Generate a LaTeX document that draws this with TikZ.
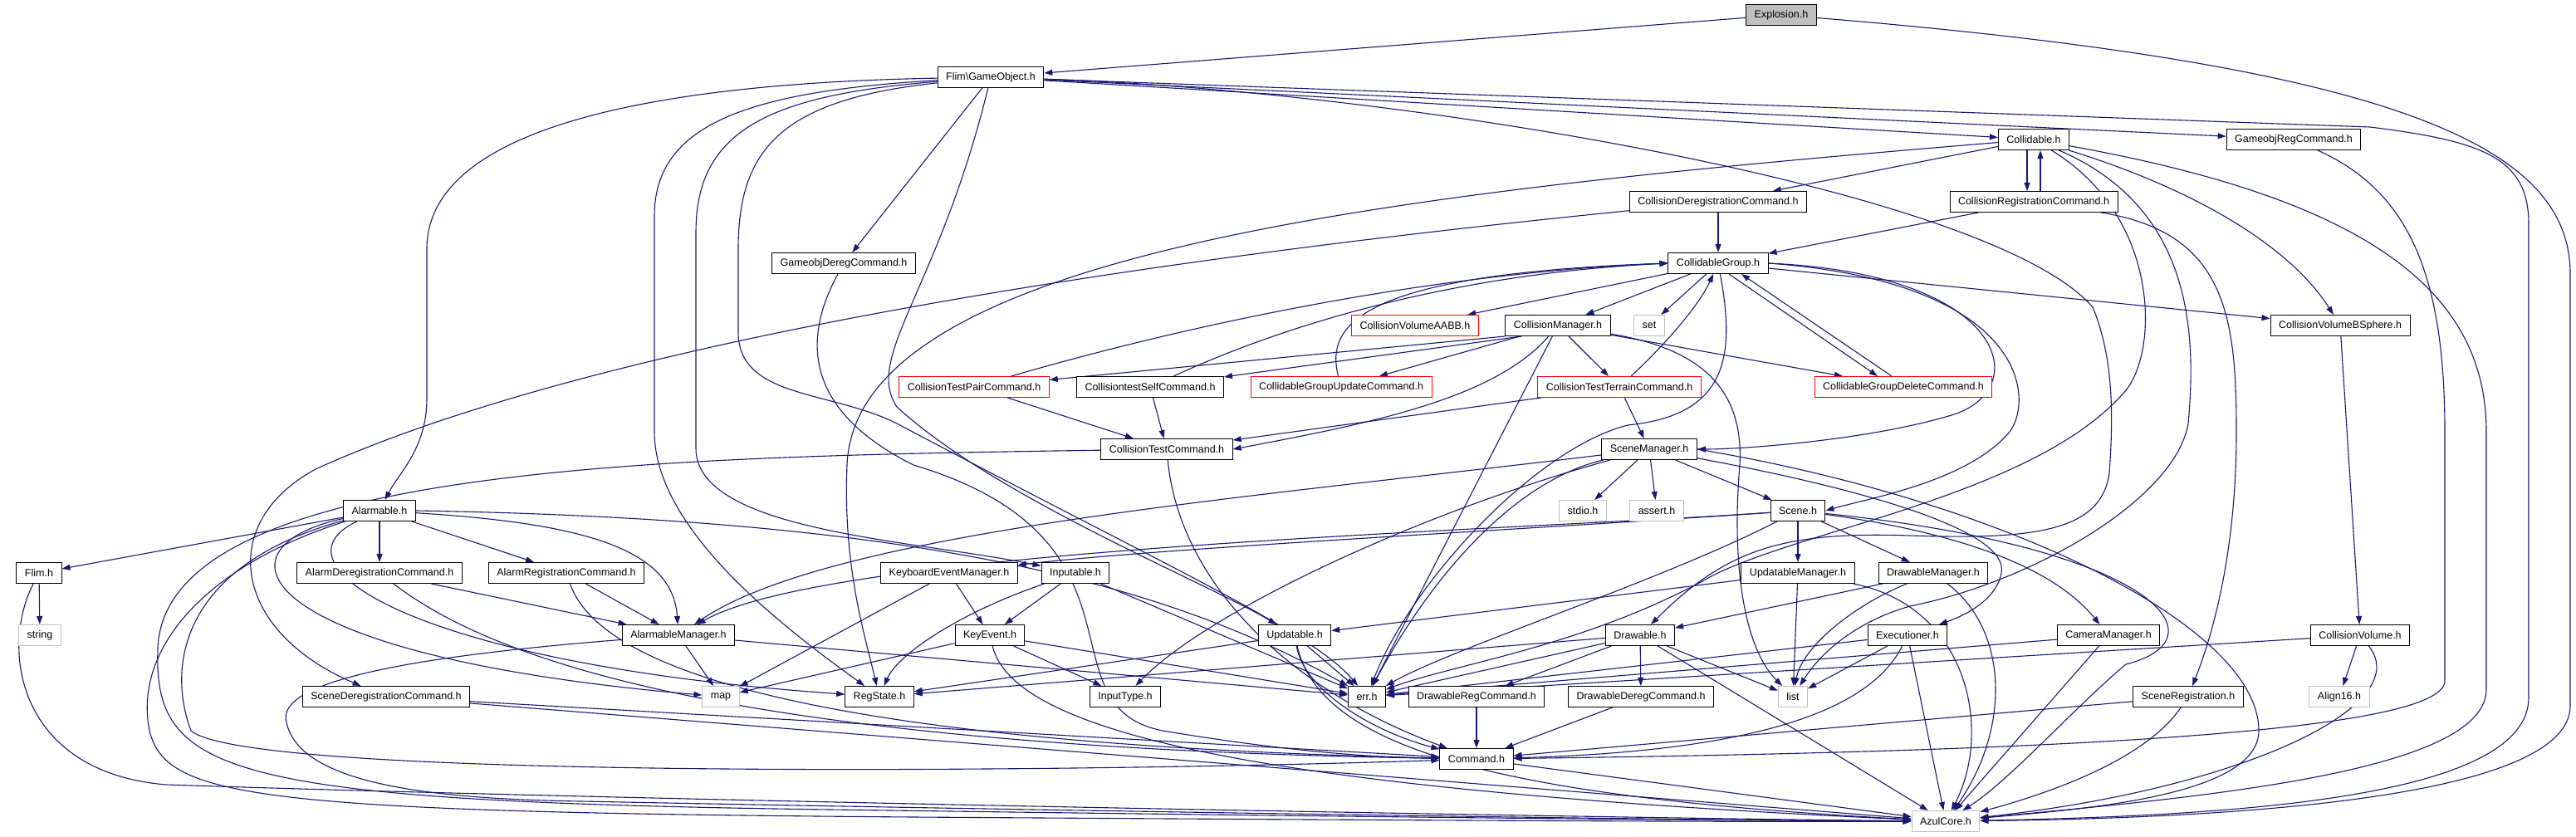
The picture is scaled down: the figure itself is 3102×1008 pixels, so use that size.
\documentclass[tikz,border=0pt]{standalone}
\usepackage{fontspec}
\setmainfont{Liberation Sans}
\usetikzlibrary{arrows.meta,backgrounds}
\definecolor{edgeblue}{RGB}{25,25,112}
\definecolor{boxgrey}{RGB}{191,191,191}

\begin{document}
\begin{tikzpicture}[x=1pt,y=-1pt]
        \tikzset{every node/.style = {shape=rectangle, draw=black, line width=1pt, fill=white,
            minimum height=25pt, inner xsep=10pt, inner ysep=0pt, font=\fontsize{12.5}{14}\selectfont},
          redbox/.style = {draw=red},
          greybox/.style = {draw=boxgrey},
          rootbox/.style = {fill=boxgrey},
          dep/.style = {draw=edgeblue, line width=1.1pt, -{Triangle[length=10pt,width=7pt]}}}
        \useasboundingbox (0,0) rectangle (3102,1008);

        \node[rootbox] (explosion) at (2145, 18) {Explosion.h};
        \node (gameobject) at (1193, 93) {Flim\textbackslash GameObject.h};

        \node (collidable) at (2449, 168) {Collidable.h};
        \node (gameobjreg) at (2762, 168) {GameobjRegCommand.h};

        \node (colldereg) at (2069, 243) {CollisionDeregistrationCommand.h};
        \node (collreg) at (2449, 243) {CollisionRegistrationCommand.h};

        \node (gameobjdereg) at (1016, 317) {GameobjDeregCommand.h};
        \node (collgroup) at (2069, 317) {CollidableGroup.h};

        \node[redbox] (volaabb) at (1704, 392) {CollisionVolumeAABB.h};
        \node (collmgr) at (1876, 392) {CollisionManager.h};
        \node[greybox] (set) at (1986, 392) {set};
        \node (volbsphere) at (2818, 392) {CollisionVolumeBSphere.h};

        \node[redbox] (testpair) at (1173, 466) {CollisionTestPairCommand.h};
        \node (testself) at (1385, 466) {CollisiontestSelfCommand.h};
        \node[redbox] (groupupdate) at (1615, 466) {CollidableGroupUpdateCommand.h};
        \node[redbox] (testterrain) at (1950, 466) {CollisionTestTerrainCommand.h};
        \node[redbox] (groupdelete) at (2292, 466) {CollidableGroupDeleteCommand.h};

        \node (testcmd) at (1405, 541) {CollisionTestCommand.h};
        \node (scenemgr) at (1986, 541) {SceneManager.h};

        \node (alarmable) at (457, 615) {Alarmable.h};
        \node[greybox] (stdio) at (1906, 615) {stdio.h};
        \node[greybox] (assert) at (1995, 615) {assert.h};
        \node (scene) at (2165, 615) {Scene.h};

        \node (flim) at (47, 690) {Flim.h};
        \node (alarmdereg) at (457, 690) {AlarmDeregistrationCommand.h};
        \node (alarmreg) at (682, 690) {AlarmRegistrationCommand.h};
        \node (keymgr) at (1143, 690) {KeyboardEventManager.h};
        \node (inputable) at (1295, 690) {Inputable.h};
        \node (updmgr) at (2165, 690) {UpdatableManager.h};
        \node (drawmgr) at (2328, 690) {DrawableManager.h};

        \node[greybox] (string) at (48, 765) {string};
        \node (alarmmgr) at (817, 765) {AlarmableManager.h};
        \node (keyevent) at (1192, 765) {KeyEvent.h};
        \node (updatable) at (1559, 765) {Updatable.h};
        \node (drawable) at (1975, 765) {Drawable.h};
        \node (executioner) at (2297, 765) {Executioner.h};
        \node (cameramgr) at (2539, 765) {CameraManager.h};
        \node (collvolume) at (2842, 765) {CollisionVolume.h};

        \node (scenedereg) at (465, 839) {SceneDeregistrationCommand.h};
        \node[greybox] (map) at (868, 839) {map};
        \node (regstate) at (1059, 839) {RegState.h};
        \node (inputtype) at (1355, 839) {InputType.h};
        \node (err) at (1646, 839) {err.h};
        \node (drawreg) at (1778, 839) {DrawableRegCommand.h};
        \node (drawdereg) at (1976, 839) {DrawableDeregCommand.h};
        \node[greybox] (list) at (2159, 839) {list};
        \node (scenereg) at (2635, 839) {SceneRegistration.h};
        \node[greybox] (align) at (2817, 839) {Align16.h};

        \node (command) at (1778, 914) {Command.h};
        \node[greybox] (azul) at (2343, 989) {AzulCore.h};

        \begin{pgfonlayer}{background}
        % Explosion.h
        \draw[dep] (explosion) -- (gameobject);
        \draw[dep] (explosion) .. controls (2900,80) and (3095,180) .. (3095,330) -- (3095,850) .. controls (3095,960) and (2700,985) .. (azul);

        % Flim\GameObject.h
        \draw[dep] (gameobject) -- (collidable);
        \draw[dep] (gameobject) -- (gameobjreg);
        \draw[dep] (gameobject) -- (gameobjdereg);
        \draw[dep] (gameobject) -- (2854,153) .. controls (2990,170) and (3045,190) .. (3045,270) -- (3045,840) .. controls (3045,960) and (2700,982) .. (azul);
        \draw[dep] (gameobject) .. controls (1700,110) and (2400,230) .. (2520,370) .. controls (2545,430) and (2545,500) .. (2540,570) .. controls (2530,640) and (2450,650) .. (2300,645) .. controls (2150,640) and (2080,660) .. (drawable);
        \draw[dep] (gameobject) .. controls (800,100) and (514,150) .. (514,300) -- (514,480) .. controls (514,540) and (480,570) .. (alarmable);
        \draw[dep] (gameobject) .. controls (900,110) and (788,150) .. (788,260) -- (788,520) .. controls (788,640) and (950,760) .. (regstate);
        \draw[dep] (gameobject) .. controls (920,115) and (838,160) .. (838,280) -- (838,540) .. controls (838,640) and (1100,650) .. (inputable);
        \draw[dep] (gameobject) .. controls (940,120) and (889,180) .. (889,300) -- (889,400) .. controls (889,480) and (1000,470) .. (1080,510) .. controls (1400,680) and (1580,760) .. (err);
        \draw[dep] (gameobject) .. controls (1130,350) and (1040,430) .. (1080,490) .. controls (1200,600) and (1450,700) .. (updatable);

        % Collidable.h
        \draw[dep] (collidable) -- (colldereg);
        \draw[dep] ([xshift=-8pt]collidable.south) -- ([xshift=-8pt]collreg.north);
        \draw[dep] ([xshift=8pt]collreg.north) -- ([xshift=8pt]collidable.south);
        \draw[dep] (collidable) .. controls (2650,230) and (2760,300) .. (volbsphere);
        \draw[dep] (collidable) .. controls (1700,230) and (1030,300) .. (1020,560) .. controls (1015,680) and (1040,760) .. (regstate);
        \draw[dep] (collidable) .. controls (2600,260) and (2600,420) .. (2560,470) .. controls (2450,600) and (2150,640) .. (2050,700) .. controls (1900,780) and (1750,800) .. (err);
        \draw[dep] (collidable) .. controls (2640,250) and (2645,400) .. (2635,510) .. controls (2620,600) and (2450,700) .. (2300,730) .. controls (2230,750) and (2190,790) .. (list);
        \draw[dep] (collidable) .. controls (2850,240) and (2994,350) .. (2994,520) -- (2994,830) .. controls (2994,930) and (2650,960) .. (azul);

        % registration commands
        \draw[dep] (colldereg) -- (collgroup);
        \draw[dep] (colldereg) .. controls (1300,320) and (700,420) .. (380,565) .. controls (260,630) and (280,760) .. (scenedereg);
        \draw[dep] (collreg) -- (collgroup);
        \draw[dep] (collreg) .. controls (2680,280) and (2693,380) .. (2693,520) .. controls (2693,650) and (2670,750) .. (scenereg);
        \draw[dep] (gameobjreg) .. controls (2900,230) and (2944,330) .. (2944,520) -- (2944,820) .. controls (2944,880) and (2500,905) .. (command);
        \draw[dep] (gameobjdereg) .. controls (960,420) and (980,500) .. (1100,560) .. controls (1400,650) and (1250,850) .. (1400,880) .. controls (1550,905) and (1650,912) .. (command);

        % CollidableGroup.h
        \draw[dep] (collgroup) -- (volaabb);
        \draw[dep] (collgroup) -- (collmgr);
        \draw[dep] (collgroup) -- (set);
        \draw[dep] (collgroup) -- (volbsphere);
        \draw[dep] ([xshift=13pt]collgroup.south) -- ([xshift=-31pt]groupdelete.north);
        \draw[dep] ([xshift=-14pt]groupdelete.north) -- ([xshift=28pt]collgroup.south);
        \draw[dep] (collgroup.east) .. controls (2420,330) and (2450,470) .. (2350,500) .. controls (2250,530) and (2100,541) .. (scenemgr.east);
        \draw[dep] (collgroup.east) .. controls (2440,340) and (2450,480) .. (2420,520) .. controls (2370,580) and (2250,600) .. (scene.east);
        \draw[dep] (collgroup) .. controls (2090,430) and (2080,500) .. (1960,512) .. controls (1850,540) and (1700,700) .. (err);

        % CollisionManager.h
        \draw[dep] (collmgr.south west) -- (testpair);
        \draw[dep] ([xshift=20pt]collmgr.south west) -- (testself);
        \draw[dep] (collmgr) -- (groupupdate);
        \draw[dep] (collmgr) -- (testterrain);
        \draw[dep] (collmgr) -- (groupdelete);
        \draw[dep] (collmgr) .. controls (1800,480) and (1650,510) .. (testcmd.east);
        \draw[dep] (collmgr) -- (err);
        \draw[dep] (collmgr) .. controls (2050,420) and (2100,470) .. (2095,560) .. controls (2085,680) and (2100,780) .. (list);

        % collision test commands
        \draw[dep] (testpair) .. controls (1400,400) and (1700,330) .. (collgroup.west);
        \draw[dep] (testself) .. controls (1550,390) and (1750,330) .. (collgroup.west);
        \draw[dep] (groupupdate) .. controls (1595,390) and (1640,330) .. (collgroup.west);
        \draw[dep] (testterrain) .. controls (2000,420) and (2045,370) .. (collgroup);
        \draw[dep] (testpair) -- (testcmd);
        \draw[dep] (testself) -- (testcmd);
        \draw[dep] (testterrain) -- (testcmd);
        \draw[dep] (testterrain) -- (scenemgr);
        \draw[dep] (testcmd) .. controls (1420,700) and (1550,830) .. (command);
        \draw[dep] (testcmd) .. controls (800,550) and (200,560) .. (190,780) .. controls (185,930) and (260,965) .. (1000,975) .. controls (1500,982) and (2000,988) .. (azul);

        % SceneManager.h
        \draw[dep] (scenemgr) -- (stdio);
        \draw[dep] (scenemgr) -- (assert);
        \draw[dep] (scenemgr) -- (scene);
        \draw[dep] (scenemgr) .. controls (1500,600) and (1000,640) .. (alarmmgr);
        \draw[dep] (scenemgr) .. controls (1820,580) and (1720,700) .. (err);
        \draw[dep] (scenemgr) .. controls (1700,620) and (1450,740) .. (inputtype);
        \draw[dep] (scenemgr) .. controls (2250,590) and (2420,640) .. (2410,690) .. controls (2405,720) and (2370,740) .. (executioner);
        \draw[dep] (scenemgr.east) .. controls (2400,600) and (2720,750) .. (2720,880) .. controls (2720,960) and (2500,975) .. (azul);

        % Scene.h
        \draw[dep] (scene) -- (updmgr);
        \draw[dep] (scene) -- (drawmgr);
        \draw[dep] (scene) .. controls (2350,640) and (2470,680) .. (cameramgr);
        \draw[dep] (scene) .. controls (1800,640) and (1000,660) .. (alarmmgr);
        \draw[dep] (scene) .. controls (1800,640) and (1400,660) .. (keymgr);
        \draw[dep] (scene) .. controls (2000,700) and (1750,780) .. (err);
        \draw[dep] (scene) .. controls (2600,660) and (2680,770) .. (2560,800) .. controls (2500,850) and (2420,940) .. (azul);

        % Alarmable.h
        \draw[dep] (alarmable) -- (flim);
        \draw[dep] (alarmable) -- (alarmdereg);
        \draw[dep] (alarmable) -- (alarmreg);
        \draw[dep] (alarmable) .. controls (700,630) and (810,660) .. (alarmmgr);
        \draw[dep] (alarmable) .. controls (250,660) and (300,790) .. (map);
        \draw[dep] (alarmable) .. controls (320,680) and (500,800) .. (regstate);
        \draw[dep] (alarmable) .. controls (220,680) and (200,800) .. (230,880) .. controls (300,940) and (1300,930) .. (command);
        \draw[dep] (alarmable) .. controls (250,680) and (160,780) .. (180,880) .. controls (200,960) and (300,978) .. (1100,984) .. controls (1700,988) and (2100,990) .. (azul);
        \draw[dep] (alarmable.east) .. controls (1100,625) and (1400,700) .. (err);

        % Flim.h
        \draw[dep] (flim) -- (string);
        \draw[dep] (flim) .. controls (0,780) and (20,930) .. (200,945) .. controls (800,965) and (2000,986) .. (azul);

        % alarm commands
        \draw[dep] (alarmdereg) -- (alarmmgr);
        \draw[dep] (alarmdereg) .. controls (600,800) and (900,900) .. (command);
        \draw[dep] (alarmreg) -- (alarmmgr);
        \draw[dep] (alarmreg) .. controls (720,800) and (950,895) .. (command);

        % input
        \draw[dep] (keymgr) -- (keyevent);
        \draw[dep] (keymgr) -- (map);
        \draw[dep] (inputable) -- (keyevent);
        \draw[dep] (inputable) .. controls (1150,740) and (1080,790) .. (regstate);
        \draw[dep] (inputable) -- (err);
        \draw[dep] (keyevent) -- (map);
        \draw[dep] (keyevent) -- (inputtype);
        \draw[dep] (keyevent) -- (err);
        \draw[dep] (keyevent) .. controls (1220,880) and (1500,950) .. (azul);

        % managers
        \draw[dep] (updmgr) -- (updatable);
        \draw[dep] (updmgr) -- (list);
        \draw[dep] (updmgr) .. controls (2370,730) and (2400,880) .. (azul);
        \draw[dep] (drawmgr) -- (drawable);
        \draw[dep] (drawmgr) .. controls (2230,730) and (2170,780) .. (list);
        \draw[dep] (drawmgr) .. controls (2420,760) and (2420,880) .. (azul);
        \draw[dep] (alarmmgr) -- (map);
        \draw[dep] (alarmmgr) -- (err);
        \draw[dep] (alarmmgr) .. controls (500,790) and (330,820) .. (345,870) .. controls (360,940) and (500,962) .. (700,965) .. controls (1200,975) and (2000,988) .. (azul);

        % Updatable.h, Drawable.h
        \draw[dep] (updatable) -- (regstate);
        \draw[dep] (updatable) -- (err);
        \draw[dep] (updatable) .. controls (1570,830) and (1650,880) .. (command);
        \draw[dep] (updatable) .. controls (1590,900) and (1800,960) .. (azul);
        \draw[dep] (drawable) -- (regstate);
        \draw[dep] (drawable) -- (err);
        \draw[dep] (drawable) -- (drawreg);
        \draw[dep] (drawable) -- (drawdereg);
        \draw[dep] (drawable) -- (list);
        \draw[dep] (drawable) -- (azul);

        % Executioner.h, CameraManager.h, CollisionVolume.h
        \draw[dep] (executioner) -- (list);
        \draw[dep] (executioner) -- (azul);
        \draw[dep] (executioner) -- (err);
        \draw[dep] (executioner) .. controls (2250,860) and (2100,905) .. (command);
        \draw[dep] (cameramgr) -- (err);
        \draw[dep] (cameramgr) -- (azul);
        \draw[dep] (volbsphere) -- (collvolume);
        \draw[dep] (collvolume) -- (align);
        \draw[dep] (collvolume) -- (err);
        \draw[dep] (collvolume) .. controls (2910,850) and (2700,950) .. (azul);

        % commands
        \draw[dep] (scenedereg) -- (command);
        \draw[dep] (scenedereg) -- (azul);
        \draw[dep] (drawreg) -- (command);
        \draw[dep] (drawdereg) -- (command);
        \draw[dep] (scenereg) -- (command);
        \draw[dep] (scenereg) .. controls (2580,920) and (2450,960) .. (azul);
        \draw[dep] (command) -- (azul);
        \end{pgfonlayer}

    \end{tikzpicture}
\end{document}
